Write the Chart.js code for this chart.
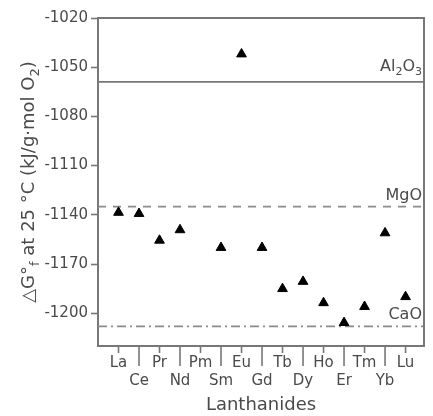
<!DOCTYPE html>
<html>
<head>
<meta charset="utf-8">
<script src="https://cdn.jsdelivr.net/npm/chart.js@4.4.1/dist/chart.umd.min.js"></script>
<style>
  html, body { margin: 0; padding: 0; background: #fff; }
  canvas { display: block; }
</style>
</head>
<body>
<canvas id="c" width="433" height="416"></canvas>
<script>
// Gibbs free energy of formation per mole O2 for the lanthanide oxides
const elements = ['La', 'Ce', 'Pr', 'Nd', 'Pm', 'Sm', 'Eu', 'Gd', 'Tb', 'Dy', 'Ho', 'Er', 'Tm', 'Yb', 'Lu'];
const deltaG = [-1138.6, -1139.3, -1155.6, -1149.2, null, -1160, -1042, -1160, -1185.1, -1180.7, -1193.7, -1205.8, -1196, -1151.1, -1190];

// Reference oxides shown as horizontal lines
const refOxides = ['Al2O3', 'MgO', 'CaO'];
const refValues = [-1059, -1135, -1208];

// Axis tick values
const yTicks = [-1020, -1050, -1080, -1110, -1140, -1170, -1200];
const xTicks = [1, 2, 3, 4, 5, 6, 7, 8, 9, 10, 11, 12, 13, 14, 15];

const X_MIN = 0, X_MAX = 15.9;
const Y_MIN = -1220, Y_MAX = -1020;

const FONT = '"DejaVu Sans", sans-serif';
const TEXT = '#4a4a4a';
const AXIS = '#777777';
const LINE = '#8a8a8a';

const lineStyles = [
  { dash: [], color: '#777777' },
  { dash: [8, 7], color: LINE },
  { dash: [9, 4, 2, 4], color: LINE }
];

// Draw text where flagged segments are set as subscripts
function drawSegments(ctx, segs, x, y, size, align) {
  const subSize = Math.round(size * 0.7);
  let total = 0;
  const widths = segs.map(([t, sub]) => {
    ctx.font = (sub ? subSize : size) + 'px ' + FONT;
    const w = ctx.measureText(t).width;
    total += w;
    return w;
  });
  let cx = align === 'right' ? x - total : align === 'center' ? x - total / 2 : x;
  ctx.textAlign = 'left';
  ctx.textBaseline = 'alphabetic';
  segs.forEach(([t, sub], i) => {
    ctx.font = (sub ? subSize : size) + 'px ' + FONT;
    ctx.fillText(t, cx, y + (sub ? size * 0.28 : 0));
    cx += widths[i];
  });
}

function chemSegments(formula) {
  return formula.split(/(\d+)/).filter(s => s.length).map(s => [s, /^\d+$/.test(s)]);
}

const decorPlugin = {
  id: 'decor',
  afterDraw(chart) {
    const { ctx, chartArea: ca, scales } = chart;
    const xs = scales.x, ys = scales.y;
    ctx.save();

    // frame: top and right edges
    ctx.strokeStyle = AXIS;
    ctx.lineWidth = 2;
    ctx.beginPath();
    ctx.moveTo(ca.left, ca.top);
    ctx.lineTo(ca.right, ca.top);
    ctx.lineTo(ca.right, ca.bottom);
    ctx.stroke();

    // x tick marks, alternating short / long to match the staggered labels
    ctx.lineWidth = 1.6;
    xs.ticks.forEach((t, i) => {
      const px = xs.getPixelForValue(t.value);
      const len = i % 2 === 0 ? 7 : 20;
      ctx.beginPath();
      ctx.moveTo(px, ca.bottom);
      ctx.lineTo(px, ca.bottom + len);
      ctx.stroke();
    });

    // reference oxide labels
    ctx.fillStyle = TEXT;
    refOxides.forEach((name, i) => {
      const py = ys.getPixelForValue(refValues[i]);
      const segs = chemSegments(name);
      const hasSub = segs.some(s => s[1]);
      drawSegments(ctx, segs, ca.right - 2, py - (hasSub ? 11 : 7), 16, 'right');
    });

    // y axis title
    ctx.translate(28, (ca.top + ca.bottom) / 2);
    ctx.rotate(-Math.PI / 2);
    drawSegments(ctx, [
      ['\u25B3G\u00B0', false], ['f', true],
      [' at 25 \u00B0C (kJ/g\u00B7mol O', false], ['2', true], [')', false]
    ], 0, 6, 18, 'center');
    ctx.restore();
  }
};

const datasets = [{
  label: 'Lanthanide oxides',
  data: elements.map((e, i) => ({ x: xTicks[i], y: deltaG[i] })).filter(p => p.y !== null),
  pointStyle: 'triangle',
  pointRadius: 5.6,
  pointHoverRadius: 5.6,
  backgroundColor: '#000',
  borderColor: '#000',
  borderWidth: 1,
  showLine: false
}];
refOxides.forEach((name, i) => {
  datasets.push({
    label: name,
    data: [{ x: X_MIN, y: refValues[i] }, { x: X_MAX, y: refValues[i] }],
    showLine: true,
    borderColor: lineStyles[i].color,
    borderWidth: 1.8,
    borderDash: lineStyles[i].dash,
    pointRadius: 0
  });
});

new Chart(document.getElementById('c'), {
  type: 'scatter',
  data: { datasets },
  options: {
    responsive: false,
    devicePixelRatio: 1,
    animation: false,
    layout: { padding: { top: 18, right: 9, left: 0, bottom: 0 } },
    plugins: { legend: { display: false }, tooltip: { enabled: false } },
    scales: {
      x: {
        type: 'linear',
        min: X_MIN,
        max: X_MAX,
        afterBuildTicks: s => { s.ticks = xTicks.map(v => ({ value: v })); },
        afterFit: s => { s.height = 70; },
        ticks: {
          autoSkip: false,
          maxRotation: 0,
          padding: 8,
          color: TEXT,
          font: { family: FONT, size: 15, lineHeight: 18 / 15 },
          callback: (v, i) => (i % 2 === 0 ? elements[i] : ['', elements[i]])
        },
        grid: { drawOnChartArea: false, drawTicks: false },
        border: { display: true, color: AXIS, width: 2 },
        title: {
          display: true,
          text: 'Lanthanides',
          color: TEXT,
          font: { family: FONT, size: 18 },
          padding: { top: 0, bottom: 0 }
        }
      },
      y: {
        min: Y_MIN,
        max: Y_MAX,
        afterBuildTicks: s => { s.ticks = yTicks.map(v => ({ value: v })); },
        afterFit: s => { s.width = 98; },
        ticks: {
          padding: 3,
          color: TEXT,
          font: { family: FONT, size: 15 },
          callback: v => String(v)
        },
        grid: { drawOnChartArea: false, drawTicks: true, tickLength: 7, tickColor: AXIS, tickWidth: 1.6 },
        border: { display: true, color: AXIS, width: 2 }
      }
    }
  },
  plugins: [decorPlugin]
});
</script>
</body>
</html>
